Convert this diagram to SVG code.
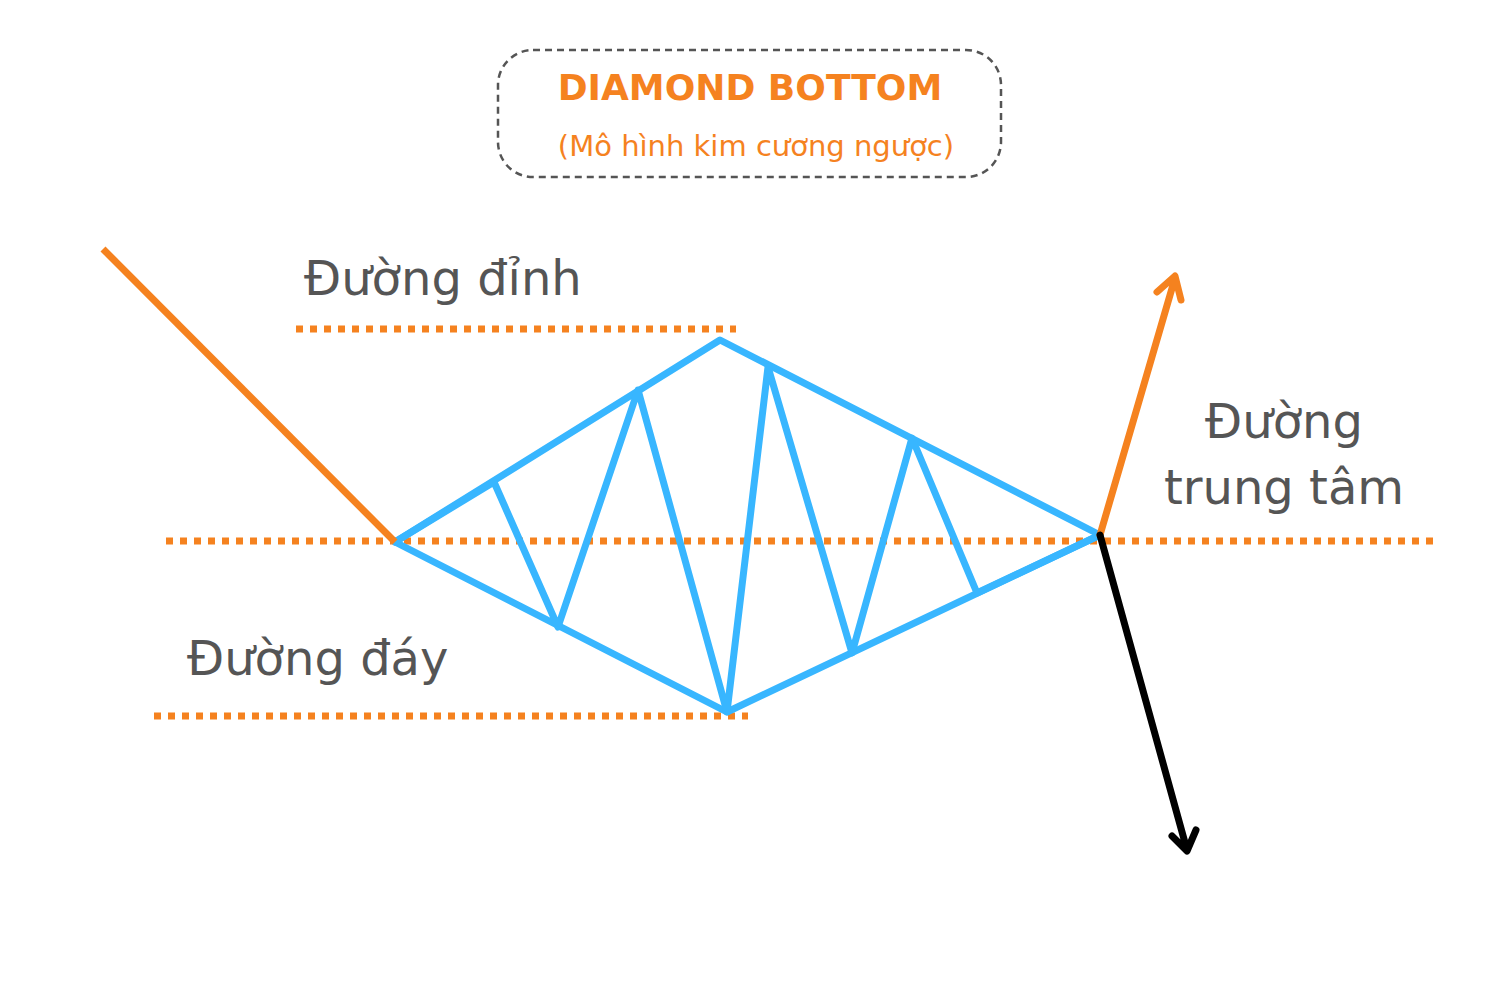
<svg xmlns="http://www.w3.org/2000/svg" width="1500" height="1000" viewBox="0 0 1500 1000">
<style>
.dot{stroke:#f5821f;stroke-width:7;stroke-dasharray:7 7;fill:none}
.blue{stroke:#38b6ff;stroke-width:7;fill:none;stroke-linejoin:round;stroke-linecap:round}
.lbl{font-family:"DejaVu Sans",sans-serif;font-size:48px;fill:#555}
</style>
<rect width="1500" height="1000" fill="#fff"/>
<g id="title">
<rect x="498" y="50" width="503" height="127" rx="35" fill="none" stroke="#555" stroke-width="2.5" stroke-dasharray="7 5"/>
<text x="750" y="100" text-anchor="middle" font-family="DejaVu Sans,sans-serif" font-weight="bold" font-size="36" fill="#f5821f">DIAMOND BOTTOM</text>
<text x="756" y="156" text-anchor="middle" font-family="DejaVu Sans,sans-serif" font-size="29" fill="#f5821f">(Mô hình kim cương ngược)</text>
</g>
<line class="dot" x1="296" y1="329" x2="736" y2="329"/>
<line class="dot" x1="166" y1="541" x2="1440" y2="541"/>
<line class="dot" x1="154" y1="716" x2="748" y2="716"/>
<path class="blue" d="M395,542 L720,340 L1100,535 L727,712 Z"/>
<polyline class="blue" points="395,542 494,482 558,627 638,390 727,712 768,367 852,653 912,438 977,593 1100,535"/>
<line x1="103" y1="249" x2="395" y2="542" stroke="#f5821f" stroke-width="7"/>
<g fill="none" stroke-width="7" stroke-linecap="round" stroke-linejoin="round">
<path d="M1100,535 L1175,278 M1157,292 L1175,276 L1181,300" stroke="#f5821f"/>
<path d="M1100,535 L1187,850 M1172,836 L1187,851 L1196,830" stroke="#000"/>
</g>
<text class="lbl" x="304" y="295">Đường đỉnh</text>
<text class="lbl" x="187" y="675">Đường đáy</text>
<text class="lbl" x="1284" y="438" text-anchor="middle">Đường</text>
<text class="lbl" x="1284" y="504" text-anchor="middle">trung tâm</text>
</svg>
